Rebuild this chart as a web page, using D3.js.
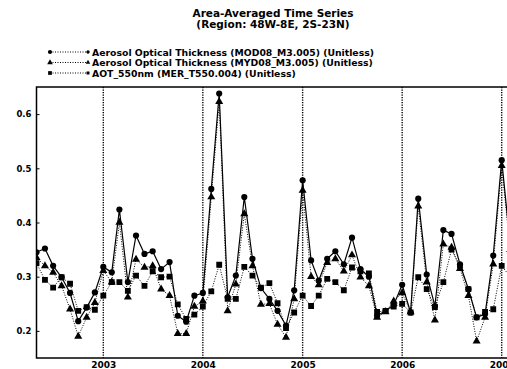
<!DOCTYPE html>
<html>
<head>
<meta charset="utf-8">
<script src="https://cdn.jsdelivr.net/npm/d3@7"></script>
<style>
  body { margin: 0; background: #fff; }
  svg { display: block; font-family: "DejaVu Sans", sans-serif; }
</style>
</head>
<body>
<div id="chart"></div>
<script>
// monthly values, first month May 2002
const startMonth = new Date(2002, 4, 1);

const modis = [0.345, 0.352, 0.32, 0.299, 0.27, 0.218, 0.243, 0.271, 0.318, 0.308, 0.424, 0.29,
  0.376, 0.342, 0.347, 0.314, 0.327, 0.228, 0.217, 0.265, 0.27, 0.462, 0.638, 0.262,
  0.302, 0.447, 0.333, 0.279, 0.259, 0.237, 0.21, 0.275, 0.478, 0.33, 0.293, 0.333,
  0.347, 0.323, 0.372, 0.314, 0.30, 0.228, 0.237, 0.248, 0.285, 0.234, 0.444, 0.304,
  0.246, 0.386, 0.379, 0.323, 0.277, 0.225, 0.231, 0.339, 0.515, 0.36];

const myd = [0.335, 0.32, 0.308, 0.283, 0.24, 0.19, 0.225, 0.252, 0.311, 0.29, 0.40, 0.262,
  0.332, 0.317, 0.32, 0.277, 0.265, 0.195, 0.195, 0.245, 0.255, 0.447, 0.623, 0.237,
  0.286, 0.416, 0.32, 0.249, 0.25, 0.212, 0.188, 0.259, 0.459, 0.30, 0.285, 0.326,
  0.333, 0.31, 0.34, 0.299, 0.283, 0.225, 0.235, 0.255, 0.27, 0.235, 0.43, 0.29,
  0.22, 0.36, 0.354, 0.315, 0.265, 0.181, 0.225, 0.323, 0.505, 0.35];

const meris = [0.325, 0.294, 0.28, 0.299, 0.287, 0.237, 0.244, 0.239, 0.265, 0.29, 0.29, 0.274,
  0.302, 0.283, 0.31, 0.299, 0.30, 0.249, 0.222, 0.23, 0.245, 0.273, 0.322, 0.259,
  0.259, 0.318, 0.302, 0.28, 0.288, 0.251, 0.205, 0.234, 0.265, 0.246, 0.265, 0.296,
  0.29, 0.275, 0.317, 0.31, 0.306, 0.235, 0.237, 0.245, 0.25, 0.234, 0.299, 0.277,
  0.244, 0.29, 0.35, 0.32, 0.277, 0.225, 0.235, 0.24, 0.32, 0.30];

const seriesNames = [
  "Aerosol Optical Thickness (MOD08_M3.005) (Unitless)",
  "Aerosol Optical Thickness (MYD08_M3.005) (Unitless)",
  "AOT_550nm (MER_T550.004) (Unitless)"
];
const yTicks = [0.2, 0.3, 0.4, 0.5, 0.6];
const yearTicks = [2003, 2004, 2005, 2006, 2007];

const W = 507, H = 369;
const plot = { left: 36.5, top: 87, right: 560, bottom: 358 };

const months = d3.range(modis.length).map(i => d3.timeMonth.offset(startMonth, i));

const x = d3.scaleTime()
  .domain([startMonth, new Date(2007, 0, 1)])
  .range([plot.left, 501.7]);
const y = d3.scaleLinear().domain([0.15, 0.65]).range([plot.bottom, plot.top]);

const svg = d3.select("#chart").append("svg")
  .attr("width", W)
  .attr("height", H);

// Title
const title = svg.append("text")
  .attr("x", 273)
  .attr("text-anchor", "middle")
  .style("font-size", "10.5px")
  .style("font-weight", "bold");
title.append("tspan").attr("x", 273).attr("y", 17).text("Area-Averaged Time Series");
title.append("tspan").attr("x", 273).attr("y", 28).text("(Region: 48W-8E, 2S-23N)");

const series = [
  { name: seriesNames[0], values: modis, dash: null, symbol: d3.symbolCircle, size: 30 },
  { name: seriesNames[1], values: myd, dash: "1,1.5", symbol: d3.symbolTriangle, size: 28 },
  { name: seriesNames[2], values: meris, dash: "1,1.5", symbol: d3.symbolSquare, size: 34 }
];

// Legend
const legend = svg.append("g");
series.forEach((s, i) => {
  const ly = 52 + i * 10.5;
  const g = legend.append("g").attr("transform", `translate(0,${ly})`);
  g.append("line")
    .attr("x1", 50).attr("x2", 88)
    .attr("stroke", "#000").attr("stroke-width", 1)
    .attr("stroke-dasharray", "1,1.5");
  [50, 88].forEach((px, k) => {
    g.append("path")
      .attr("transform", `translate(${px},0)`)
      .attr("d", d3.symbol().type(s.symbol).size(k ? 9 : 14)())
      .attr("fill", "#000");
  });
  g.append("text")
    .attr("x", 92).attr("y", 3.5)
    .style("font-size", "9.3px")
    .style("font-weight", "bold")
    .text(s.name);
});

// clip for plot region
svg.append("clipPath").attr("id", "clip")
  .append("rect")
  .attr("x", plot.left).attr("y", plot.top)
  .attr("width", plot.right - plot.left).attr("height", plot.bottom - plot.top);

// vertical year grid lines
svg.append("g").selectAll("line")
  .data(yearTicks)
  .join("line")
  .attr("x1", d => x(new Date(d, 0, 1))).attr("x2", d => x(new Date(d, 0, 1)))
  .attr("y1", plot.top).attr("y2", plot.bottom)
  .attr("stroke", "#000").attr("stroke-width", 1.4)
  .attr("stroke-dasharray", "1.2,1.3");

// series lines and markers
const line = d3.line()
  .x((d, i) => x(months[i]))
  .y(d => y(d));

const marks = svg.append("g").attr("clip-path", "url(#clip)");
series.slice().reverse().forEach(s => {
  marks.append("path")
    .datum(s.values)
    .attr("d", line)
    .attr("fill", "none")
    .attr("stroke", "#000")
    .attr("stroke-width", s.dash ? 1 : 1.2)
    .attr("stroke-dasharray", s.dash);
  marks.append("g").selectAll("path")
    .data(s.values)
    .join("path")
    .attr("transform", (d, i) => `translate(${x(months[i])},${y(d)})`)
    .attr("d", d3.symbol().type(s.symbol).size(s.size)())
    .attr("fill", "#000");
});

// frame
svg.append("rect")
  .attr("x", plot.left).attr("y", plot.top)
  .attr("width", plot.right - plot.left).attr("height", plot.bottom - plot.top)
  .attr("fill", "none").attr("stroke", "#000").attr("stroke-width", 1.5);

// y axis
const yAxis = svg.append("g")
  .attr("transform", `translate(${plot.left},0)`)
  .call(d3.axisRight(y).tickValues(yTicks).tickSize(3).tickFormat(d3.format(".1f")));
yAxis.select(".domain").remove();
yAxis.selectAll("line").attr("stroke-width", 1);
yAxis.selectAll("text")
  .attr("x", -5)
  .attr("text-anchor", "end")
  .style("font-family", "DejaVu Sans")
  .style("font-size", "8.5px")
  .style("font-weight", "bold");

// x axis (years)
const xAxis = svg.append("g")
  .attr("transform", `translate(0,${plot.bottom})`)
  .call(d3.axisBottom(x).tickValues(yearTicks.map(d => new Date(d, 0, 1))).tickSize(0).tickPadding(4).tickFormat(d3.timeFormat("%Y")));
xAxis.select(".domain").remove();
xAxis.selectAll("text")
  .style("font-family", "DejaVu Sans")
  .style("font-size", "9px")
  .style("font-weight", "bold");
</script>
</body>
</html>
